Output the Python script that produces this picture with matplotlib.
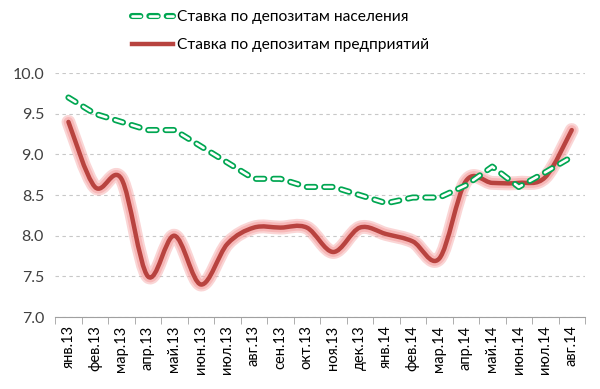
""" deposit rates chart """

import numpy as np
from matplotlib import pyplot as plt
from matplotlib import patheffects as pe
from matplotlib.legend_handler import HandlerTuple
from matplotlib.lines import Line2D
from matplotlib.path import Path
from matplotlib.patches import PathPatch

MONTHS = ["янв.13", "фев.13", "мар.13", "апр.13", "май.13", "июн.13", "июл.13",
          "авг.13", "сен.13", "окт.13", "ноя.13", "дек.13", "янв.14", "фев.14",
          "мар.14", "апр.14", "май.14", "июн.14", "июл.14", "авг.14"]
HOUSEHOLD = [9.7, 9.5, 9.4, 9.3, 9.3, 9.1, 8.9, 8.7, 8.7, 8.6,
             8.6, 8.5, 8.4, 8.47, 8.47, 8.62, 8.85, 8.6, 8.78, 8.97]
CORPORATE = [9.4, 8.6, 8.7, 7.5, 8.0, 7.4, 7.9, 8.1, 8.1, 8.1,
             7.8, 8.1, 8.02, 7.93, 7.72, 8.67, 8.65, 8.65, 8.72, 9.3]
LABEL_HH = "Ставка по депозитам населения"
LABEL_CORP = "Ставка по депозитам предприятий"

plt.rcParams['font.family'] = ['Lato', 'DejaVu Sans']
plt.rcParams['lines.scale_dashes'] = False

GREEN = '#00a651'
RED = '#b8433f'
GLOW = '#f5a3a3'
DASH = (0, (6.0, 6.5))
LW_OUT, LW_IN = 4.4, 1.9


def smooth_path(xs, ys):
    """ excel-like smoothed line as bezier path """
    pts = np.column_stack([xs, ys]).astype(float)
    verts = [pts[0]]
    codes = [Path.MOVETO]
    n = len(pts)
    for i in range(n - 1):
        p0 = pts[i - 1] if i > 0 else pts[i]
        p1, p2 = pts[i], pts[i + 1]
        p3 = pts[i + 2] if i + 2 < n else pts[i + 1]
        c1 = p1 + (p2 - p0) / 6.0
        c2 = p2 - (p3 - p1) / 6.0
        verts += [c1, c2, p2]
        codes += [Path.CURVE4] * 3
    return Path(verts, codes)


def main():
    """ main """
    fig = plt.figure(figsize=(6.0, 3.89), dpi=100)
    ax = fig.add_axes([0.092, 0.185, 0.883, 0.627])

    x = np.arange(len(MONTHS))

    ax.set_ylim(7.0, 10.0)
    ax.set_xlim(-0.5, len(MONTHS) - 0.5)
    ax.set_yticks([7.0, 7.5, 8.0, 8.5, 9.0, 9.5, 10.0])
    ax.yaxis.grid(True, color='#c8c8c8', linestyle=(0, (2.5, 2.5)), linewidth=0.8)
    ax.set_axisbelow(True)

    # corporate: smoothed with glow
    patch = PathPatch(smooth_path(x, CORPORATE), facecolor='none', edgecolor=RED,
                      linewidth=3.2, capstyle='round', joinstyle='round', zorder=3)
    patch.set_path_effects([
        pe.Stroke(linewidth=10, foreground=GLOW, alpha=0.45),
        pe.Stroke(linewidth=7, foreground=GLOW, alpha=0.6),
        pe.Normal()])
    ax.add_patch(patch)

    # household: outlined dashes
    ax.plot(x, HOUSEHOLD, color=GREEN, linewidth=LW_OUT, linestyle=DASH,
            dash_capstyle='round', zorder=4)
    ax.plot(x, HOUSEHOLD, color='white', linewidth=LW_IN, linestyle=DASH,
            dash_capstyle='round', zorder=5)

    ax.set_xticks(x)
    ax.set_xticklabels(MONTHS, rotation=90, fontsize=10.5)
    ax.tick_params(axis='x', which='major', length=0, pad=6)
    ax.set_xticks(np.arange(len(MONTHS) + 1) - 0.5, minor=True)
    ax.tick_params(axis='x', which='minor', length=5, color='#a0a0a0')
    ax.tick_params(axis='y', length=0, labelsize=11.5, pad=8, labelcolor='#404040')
    ax.yaxis.set_major_formatter(plt.FormatStrFormatter('%.1f'))

    for side in ('left', 'right', 'top'):
        ax.spines[side].set_visible(False)
    ax.spines['bottom'].set_color('#a0a0a0')

    h_hh = (Line2D([], [], color=GREEN, linewidth=LW_OUT, linestyle=DASH, dash_capstyle='round'),
            Line2D([], [], color='white', linewidth=LW_IN, linestyle=DASH, dash_capstyle='round'))
    h_corp = Line2D([], [], color=RED, linewidth=3.2)
    fig.legend([h_hh, h_corp], [LABEL_HH, LABEL_CORP], loc='upper left',
               bbox_to_anchor=(0.197, 1.01), frameon=False, fontsize=11.2,
               handlelength=2.6, handletextpad=0.3, labelspacing=0.9,
               handler_map={tuple: HandlerTuple(ndivide=1, pad=0)})

    fig.savefig("out.png", dpi=100)


main()
